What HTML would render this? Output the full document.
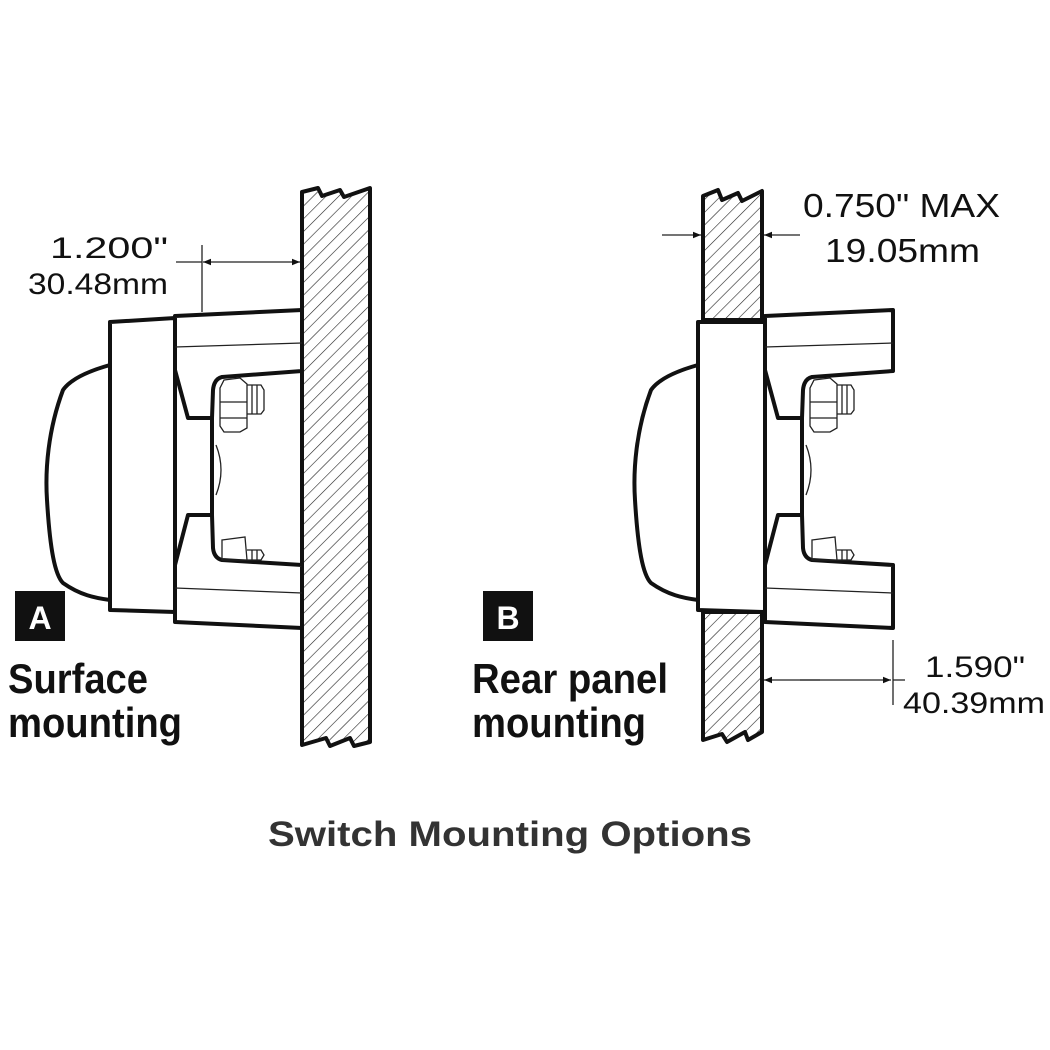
<!DOCTYPE html>
<html><head><meta charset="utf-8"><style>html,body{margin:0;padding:0;background:#fff}svg{display:block}</style></head>
<body>
<svg width="1050" height="1050" viewBox="0 0 1050 1050" xmlns="http://www.w3.org/2000/svg" font-family="Liberation Sans, sans-serif">
<defs>
<pattern id="h" patternUnits="userSpaceOnUse" width="9" height="9" patternTransform="rotate(45)">
<line x1="0" y1="0" x2="0" y2="9" stroke="#222" stroke-width="1.2"/>
</pattern>
<marker id="ar" viewBox="0 0 10 10" refX="10" refY="5" markerWidth="12" markerHeight="8" markerUnits="userSpaceOnUse" orient="auto"><path d="M0,1 L10,5 L0,9 z" fill="#111"/></marker>
</defs>
<rect width="1050" height="1050" fill="#fff"/>

<!-- ===== A ===== -->
<path d="M302,192 L318,188 L322,196 L340,190 L344,197 L370,188 L370,742 L354,746 L350,738 L330,746 L326,738 L302,745 Z" fill="url(#h)" stroke="#111" stroke-width="4" stroke-linejoin="round"/>
<g fill="#fff" stroke="#111" stroke-width="4" stroke-linejoin="round">
<path d="M110,365 C85,372 70,380 63,390 C48,430 45,470 47,500 C50,550 55,575 63,583 C80,595 95,598 110,600 Z"/>
<path d="M110,322 L175,318 L175,612 L110,610 Z"/>
<path d="M175,316 L302,310 L302,371 L222,377 Q214,379 213,390 L212,418 L188,418 L175,370 Z"/>
<path d="M175,622 L302,628 L302,565 L222,560 Q214,558 213,548 L212,515 L188,515 L175,565 Z"/>
<path d="M212,418 L212,515" fill="none"/>
</g>
<g fill="none" stroke="#222" stroke-width="1.3">
<line x1="175" y1="347" x2="302" y2="343"/>
<line x1="175" y1="588" x2="302" y2="593"/>
<path d="M216,445 Q226,470 216,495"/>
<path d="M224,380 L240,378 L247,384 L247,428 L240,432 L224,432 L220,426 L220,388 Z"/>
<line x1="220" y1="402" x2="247" y2="402"/><line x1="220" y1="418" x2="247" y2="418"/>
<path d="M247,385 L261,385 L264,390 L264,410 L261,414 L247,414"/>
<line x1="252" y1="385" x2="252" y2="414"/><line x1="257" y1="385" x2="257" y2="414"/>
<path d="M222,540 L245,537 L247,560 L222,560 Z"/>
<path d="M247,550 L261,550 L264,555 L261,560 L247,560"/>
<line x1="252" y1="550" x2="252" y2="560"/><line x1="257" y1="550" x2="257" y2="560"/>
</g>
<!-- dim A -->
<g stroke="#222" stroke-width="1.3" fill="none">
<line x1="202" y1="245" x2="202" y2="312"/>
<line x1="176" y1="262" x2="202" y2="262"/>
<line x1="240" y1="262" x2="300" y2="262" marker-end="url(#ar)"/>
<line x1="240" y1="262" x2="203" y2="262" marker-end="url(#ar)"/>
</g>
<text x="50" y="258" font-size="30" fill="#111" textLength="118" lengthAdjust="spacingAndGlyphs">1.200"</text>
<text x="28" y="294" font-size="30" fill="#111" textLength="140" lengthAdjust="spacingAndGlyphs">30.48mm</text>
<rect x="15" y="591" width="50" height="50" fill="#111"/>
<text x="40" y="629" font-size="32" font-weight="bold" fill="#fff" text-anchor="middle">A</text>
<text x="8" y="693" font-size="42" font-weight="bold" fill="#111" textLength="140" lengthAdjust="spacingAndGlyphs">Surface</text>
<text x="8" y="737" font-size="42" font-weight="bold" fill="#111" textLength="174" lengthAdjust="spacingAndGlyphs">mounting</text>

<!-- ===== B ===== -->
<path d="M703,320 L703,196 L718,190 L722,200 L738,193 L742,201 L762,191 L762,320 Z" fill="url(#h)" stroke="#111" stroke-width="4" stroke-linejoin="round"/>
<path d="M703,612 L762,612 L762,732 L748,740 L745,732 L727,742 L722,734 L703,740 Z" fill="url(#h)" stroke="#111" stroke-width="4" stroke-linejoin="round"/>
<g fill="#fff" stroke="#111" stroke-width="4" stroke-linejoin="round">
<path d="M698,365 C673,372 658,380 651,390 C636,430 633,470 635,500 C638,550 643,575 651,583 C668,595 683,598 698,600 Z"/>
<path d="M698,322 L765,322 L765,612 L698,610 Z"/>
<path d="M765,316 L893,310 L893,371 L812,377 Q804,379 803,390 L802,418 L778,418 L765,370 Z"/>
<path d="M765,622 L893,628 L893,565 L812,560 Q804,558 803,548 L802,515 L778,515 L765,565 Z"/>
<path d="M802,418 L802,515" fill="none"/>
</g>
<g fill="none" stroke="#222" stroke-width="1.3">
<line x1="765" y1="347" x2="893" y2="343"/>
<line x1="765" y1="588" x2="893" y2="593"/>
<path d="M806,445 Q816,470 806,495"/>
<path d="M814,380 L830,378 L837,384 L837,428 L830,432 L814,432 L810,426 L810,388 Z"/>
<line x1="810" y1="402" x2="837" y2="402"/><line x1="810" y1="418" x2="837" y2="418"/>
<path d="M837,385 L851,385 L854,390 L854,410 L851,414 L837,414"/>
<line x1="842" y1="385" x2="842" y2="414"/><line x1="847" y1="385" x2="847" y2="414"/>
<path d="M812,540 L835,537 L837,560 L812,560 Z"/>
<path d="M837,550 L851,550 L854,555 L851,560 L837,560"/>
<line x1="842" y1="550" x2="842" y2="560"/><line x1="847" y1="550" x2="847" y2="560"/>
</g>
<g stroke="#222" stroke-width="1.3" fill="none">
<line x1="662" y1="235" x2="701" y2="235" marker-end="url(#ar)"/>
<line x1="800" y1="235" x2="764" y2="235" marker-end="url(#ar)"/>
<line x1="893" y1="640" x2="893" y2="705"/>
<line x1="820" y1="680" x2="764" y2="680" marker-end="url(#ar)"/>
<line x1="800" y1="680" x2="891" y2="680" marker-end="url(#ar)"/>
<line x1="893" y1="680" x2="905" y2="680"/>
</g>
<text x="803" y="217" font-size="33" fill="#111" textLength="197" lengthAdjust="spacingAndGlyphs">0.750" MAX</text>
<text x="825" y="262" font-size="33" fill="#111" textLength="155" lengthAdjust="spacingAndGlyphs">19.05mm</text>
<text x="925" y="677" font-size="30" fill="#111" textLength="100" lengthAdjust="spacingAndGlyphs">1.590"</text>
<text x="903" y="713" font-size="30" fill="#111" textLength="142" lengthAdjust="spacingAndGlyphs">40.39mm</text>
<rect x="483" y="591" width="50" height="50" fill="#111"/>
<text x="508" y="629" font-size="32" font-weight="bold" fill="#fff" text-anchor="middle">B</text>
<text x="472" y="693" font-size="42" font-weight="bold" fill="#111" textLength="196" lengthAdjust="spacingAndGlyphs">Rear panel</text>
<text x="472" y="737" font-size="42" font-weight="bold" fill="#111" textLength="174" lengthAdjust="spacingAndGlyphs">mounting</text>

<text x="268" y="846" font-size="35" font-weight="bold" fill="#333" textLength="484" lengthAdjust="spacingAndGlyphs">Switch Mounting Options</text>
</svg>
</body></html>
